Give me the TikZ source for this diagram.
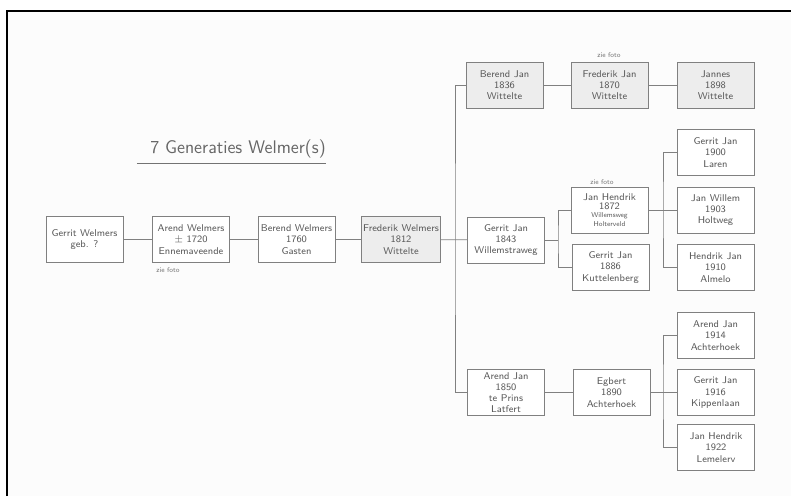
\documentclass[tikz,border=0pt]{standalone}
\usepackage{amsmath}
\usepackage{tikz}
\usetikzlibrary{positioning}

\tikzset{
  person/.style={draw=black!50, text=black!65, font=\sffamily\scriptsize, align=center,
    minimum width=1.92cm, minimum height=1.14cm, inner sep=1pt, fill=white},
  marked/.style={person, fill=black!7},
  note/.style={text=black!55, font=\sffamily\tiny},
  link/.style={draw=black!50, line width=0.5pt}
}

\begin{document}
\begin{tikzpicture}[x=0.025cm, y=-0.025cm]
    \useasboundingbox (0,0) rectangle (791,496);
    \fill[black!1] (7,11) rectangle (791,496);
    \draw[line width=1.4pt] (7,496) -- (7,11) -- (791,11);

    % Title
    \node[text=black!60, font=\sffamily\fontsize{13}{15}\selectfont] (title) at (238,149) {7 Generaties Welmer(s)};
    \draw[black!55] ([xshift=-6pt]title.south west) -- ([xshift=-3pt]title.south east);

    % Define nodes
    \node[person] (gw) at (84.5,239.5) {Gerrit Welmers\\geb. ?};
    \node[person] (aw) at (191,239.5) {Arend Welmers\\$\pm$ 1720\\Ennemaveende};
    \node[person] (bw) at (296.5,239.5) {Berend Welmers\\1760\\Gasten};
    \node[marked] (fw) at (401,239.5) {Frederik Welmers\\1812\\Wittelte};

    \node[marked] (bj) at (504.5,85) {Berend Jan\\1836\\Wittelte};
    \node[marked] (fj) at (609.5,85) {Frederik Jan\\1870\\Wittelte};
    \node[marked] (ja) at (715.5,85) {Jannes\\1898\\Wittelte};

    \node[person] (gj) at (506,240) {Gerrit Jan\\1843\\Willemstraweg};
    \node[person, font=\sffamily\tiny] (jh) at (609.5,210) {\scriptsize Jan Hendrik\\\scriptsize 1872\\Willemsweg\\Holterveld};
    \node[person] (gk) at (610.5,267.5) {Gerrit Jan\\1886\\Kuttelenberg};
    \node[person] (gl) at (715.5,152.5) {Gerrit Jan\\1900\\Laren};
    \node[person] (jw) at (715.5,210) {Jan Willem\\1903\\Holtweg};
    \node[person] (ha) at (715.5,267.5) {Hendrik Jan\\1910\\Almelo};

    \node[person] (aj) at (506,392.5) {Arend Jan\\1850\\te Prins\\Latfert};
    \node[person] (eg) at (611.5,392.5) {Egbert\\1890\\Achterhoek};
    \node[person] (aa) at (715.5,335.5) {Arend Jan\\1914\\Achterhoek};
    \node[person] (gp) at (715.5,392.5) {Gerrit Jan\\1916\\Kippenlaan};
    \node[person] (jl) at (716,447.5) {Jan Hendrik\\1922\\Lemelerv};

    \node[note] (fa) at (168,270) {zie foto};
    \node[note] (fb) at (609,55) {zie foto};
    \node[note] (fc) at (602,182) {zie foto};

    % Branch points
    \coordinate (s1) at (455,239.5);
    \coordinate (s2) at (558,240);
    \coordinate (s3) at (663,210);
    \coordinate (s4) at (663,392.5);

    % Draw lines
    \draw[link] (gw) -- (aw) -- (bw) -- (fw) -- (gj);
    \draw[link] (bj.west) -| (s1) |- (aj.west);
    \draw[link] (bj) -- (fj) -- (ja);
    \draw[link] (gj) -- (s2);
    \draw[link] (jh.west) -| (s2) |- (gk.west);
    \draw[link] (jh) -- (jw);
    \draw[link] (gl.west) -| (s3) |- (ha.west);
    \draw[link] (aj) -- (eg) -- (gp);
    \draw[link] (aa.west) -| (s4) |- (jl.west);
\end{tikzpicture}
\end{document}
